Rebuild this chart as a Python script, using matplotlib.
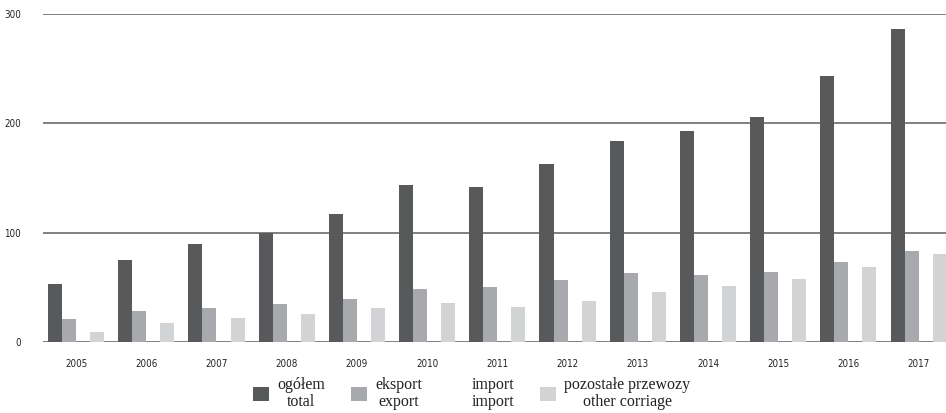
import numpy as np
import matplotlib
matplotlib.use("Agg")
import matplotlib.pyplot as plt

# values
years = ["2005", "2006", "2007", "2008", "2009", "2010", "2011",
         "2012", "2013", "2014", "2015", "2016", "2017"]
total = [53, 75, 90, 100, 117, 144, 142, 163, 184, 193, 206, 243, 286]
export = [21, 28, 31.5, 35, 39, 48.5, 50, 57, 63.4, 61.5, 63.7, 72.8, 83]
imports = [0, 0, 0, 0, 0, 0, 0, 0, 0, 0, 0, 0, 0]
other = [9.5, 17, 22, 25.5, 31, 35.4, 32.3, 37.2, 45.4, 50.9, 57.3, 68.6, 80.2]

labels = ["ogółem\ntotal", "eksport\nexport", "import\nimport",
          "pozostałe przewozy\nother corriage"]
colors = ["#58595b", "#a7a9ac", "#ffffff", "#d1d3d4"]
yticks = [0, 100, 200, 300]

fig = plt.figure(figsize=(9.46, 4.13), dpi=100)
ax = fig.add_axes([0.0455, 0.172, 0.9545, 0.794])

x = np.arange(len(years))
w = 0.2
series = [total, export, imports, other]
handles = []
for k, vals in enumerate(series):
    b = ax.bar(x + (k - 1.5) * w, vals, width=w, color=colors[k],
               zorder=2, linewidth=0)
    handles.append(b)

# horizontal rules instead of a frame
for yv in yticks:
    ax.axhline(yv, color="#808080", linewidth=1.4, zorder=1)

ax.set_xlim(-0.47, 12.39)
ax.set_ylim(0, 300)
for s in ax.spines.values():
    s.set_visible(False)

tick_font = dict(family="DejaVu Sans", stretch="condensed", size=7,
                 color="#222222")
ax.set_yticks(yticks)
ax.set_yticklabels([str(v) for v in yticks], **tick_font)
ax.set_xticks(x)
ax.set_xticklabels(years, **tick_font)
ax.tick_params(axis="y", length=0, pad=16)
ax.tick_params(axis="x", length=0, pad=12)

leg = ax.legend(handles, labels, ncol=4, loc="upper left",
                bbox_to_anchor=(0.224, -0.083), frameon=False,
                prop=dict(family="Liberation Serif", size=11.5),
                handlelength=1.0, handleheight=1.0, handletextpad=0.5,
                columnspacing=1.62, labelspacing=0.2, borderpad=0)
for t in leg.get_texts():
    t.set_multialignment("center")
    t.set_linespacing(1.1)
    t.set_color("#222222")
for p in leg.legend_handles:
    p.set_edgecolor("none")

fig.savefig("out.png", dpi=100)
